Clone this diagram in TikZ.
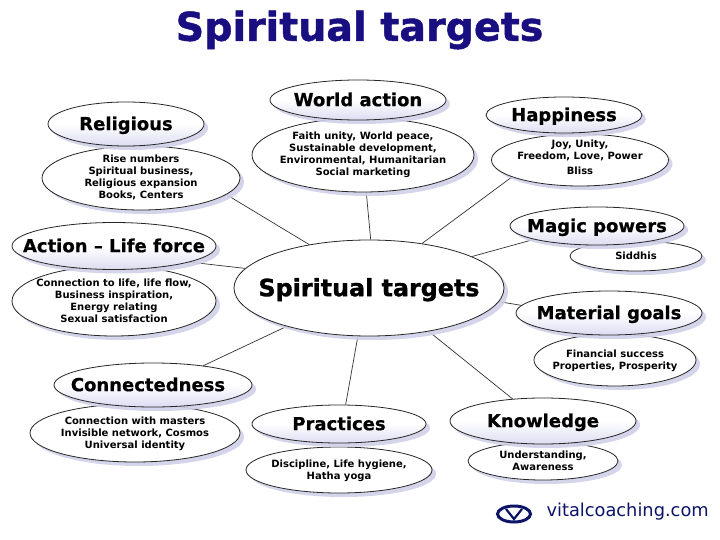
\documentclass[tikz,border=0pt]{standalone}
\usepackage{fontspec}
\setmainfont{DejaVu Sans}
\newfontface\hv[FakeBold=1.2]{DejaVu Sans Bold}
\newfontface\hw[FakeBold=0.6]{DejaVu Sans Bold}
\usetikzlibrary{shapes.geometric,shadows}
\definecolor{navy}{HTML}{1A0F80}
\definecolor{logoblue}{HTML}{0C1468}
\definecolor{shade}{HTML}{D0D0E8}
\definecolor{bott}{HTML}{DCDCF2}
\tikzset{
  base/.style={ellipse,draw=black!85,line width=.8pt,inner sep=0pt,
    drop shadow={shadow xshift=4pt,shadow yshift=-4pt,fill=shade,opacity=.9}},
  head/.style={base,top color=white,bottom color=bott,middle color=white,font=\hw\fontsize{18}{20}\selectfont},
  hub/.style={base,fill=white,font=\hv\fontsize{18}{20}\selectfont},
  body/.style={base,fill=white,font=\bfseries\fontsize{10}{12}\selectfont},
  link/.style={draw=black!80,line width=.7pt}
}
\newcommand{\elln}[6]{\node[#1,minimum width=#4pt,minimum height=#5pt] (#2) at (#3) {\smash{\makebox[0pt]{\raisebox{\dimexpr-.425em+1.15pt\relax}{\begin{tabular}{@{}c@{}}#6\end{tabular}}}}};}
\pgfdeclarelayer{front}\pgfsetlayers{main,front}
\begin{document}
\begin{tikzpicture}[x=1pt,y=-1pt]
\useasboundingbox (0,0) rectangle (720,540);
\fill[white] (0,0) rectangle (720,540);
\node[font=\hv\fontsize{39.6}{44}\selectfont,text=navy] (title) at (359.5,30) {Spiritual targets};
\begin{pgfonlayer}{front}
\elln{hub}{c}{369,288}{270}{96}{\fontsize{23.8}{26}\selectfont Spiritual targets}
\elln{body}{rb}{141,178}{198}{64}{Rise numbers\\Spiritual business,\\Religious expansion\\Books, Centers}
\elln{head}{r}{126,124}{156}{44}{Religious}
\elln{body}{ab}{114,301}{204}{70}{Connection to life, life flow,\\Business inspiration,\\Energy relating\\Sexual satisfaction}
\elln{head}{a}{114,246}{204}{47}{Action – Life force}
\elln{body}{wb}{363,155}{222}{74}{Faith unity, World peace,\\Sustainable development,\\Environmental, Humanitarian\\Social marketing}
\elln{head}{w}{358,100}{176}{40}{World action}
\elln{body}{hb}{580,160}{177}{52}{Joy, Unity,\\Freedom, Love, Power\\[3pt]Bliss\\[3pt]}
\elln{head}{h}{564,115}{156}{36}{Happiness}
\elln{body}{mb}{636,256}{132}{30}{Siddhis}
\elln{head}{m}{597,226}{174}{38}{Magic powers}
\elln{body}{gb}{615,360}{162}{52}{Financial success\\Properties, Prosperity}
\elln{head}{g}{609,313}{186}{44}{Material goals}
\elln{body}{kb}{543,461}{150}{38}{Understanding,\\Awareness}
\elln{head}{k}{543,421}{186}{46}{Knowledge}
\elln{body}{pb}{339,470}{186}{46}{Discipline, Life hygiene,\\Hatha yoga}
\elln{head}{p}{339,424}{174}{38}{Practices}
\elln{body}{nb}{135,433}{210}{58}{Connection with masters\\Invisible network, Cosmos\\Universal identity}
\elln{head}{n}{153,385}{198}{44}{\hspace{-10pt}Connectedness}
\end{pgfonlayer}
\draw[link] (c.144.8) -- (rb.-11.4);
\draw[link] (c.171.6) -- (a.-12.6);
\draw[link] (c.88.8) -- (wb.-85);
\draw[link] (c.40.7) -- (hb.194.4);
\draw[link] (c.17.2) -- (m.192.7);
\draw[link] (c.-6) -- (g.175.7);
\draw[link] (c.-36.9) -- (k.144);
\draw[link] (c.257.9) -- (p.71.6);
\draw[link] (c.205.4) -- (n.21);
% logo
\node[ellipse,draw=logoblue,line width=3pt,minimum width=33pt,minimum height=16pt,inner sep=0pt] (logo) at (514,514) {};
\draw[logoblue,line width=2.2pt] (506,509) -- (514,519) -- (522,509);
\node[anchor=west,font=\fontsize{17.8}{20}\selectfont,text=logoblue] (url) at (543,512) {vitalcoaching.com};
\end{tikzpicture}
\end{document}
